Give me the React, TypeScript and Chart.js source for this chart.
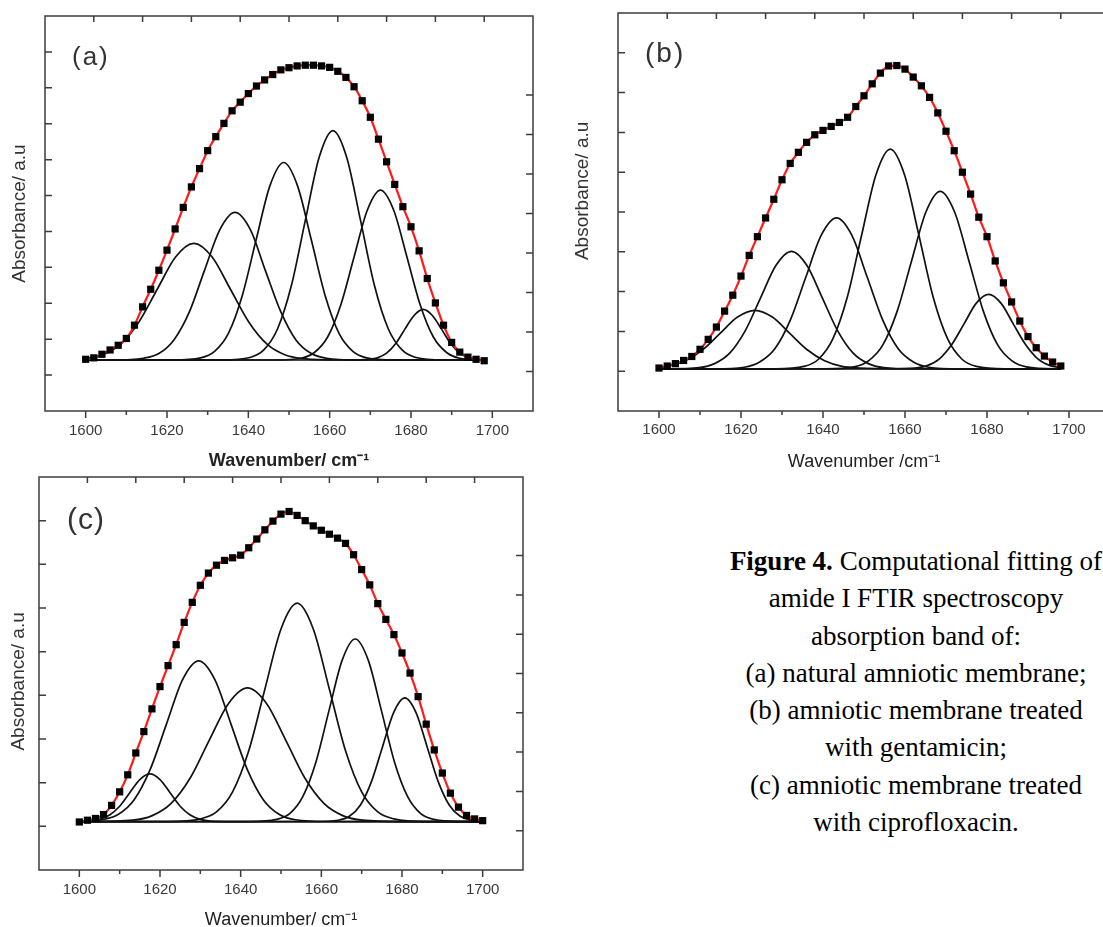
import React, { useEffect, useRef } from 'react';
import { Chart, registerables } from 'chart.js';

Chart.register(...registerables);

// ---------- DATA ----------
const wavenumberAB = [1600, 1602, 1604, 1606, 1608, 1610, 1612, 1614, 1616, 1618, 1620, 1622, 1624, 1626, 1628, 1630, 1632, 1634, 1636, 1638, 1640, 1642, 1644, 1646, 1648, 1650, 1652, 1654, 1656, 1658, 1660, 1662, 1664, 1666, 1668, 1670, 1672, 1674, 1676, 1678, 1680, 1682, 1684, 1686, 1688, 1690, 1692, 1694, 1696, 1698];
const wavenumberC = [1600, 1602, 1604, 1606, 1608, 1610, 1612, 1614, 1616, 1618, 1620, 1622, 1624, 1626, 1628, 1630, 1632, 1634, 1636, 1638, 1640, 1642, 1644, 1646, 1648, 1650, 1652, 1654, 1656, 1658, 1660, 1662, 1664, 1666, 1668, 1670, 1672, 1674, 1676, 1678, 1680, 1682, 1684, 1686, 1688, 1690, 1692, 1694, 1696, 1698, 1700];

const absorbanceA = [0.044, 0.048, 0.058, 0.070, 0.083, 0.102, 0.139, 0.190, 0.239, 0.292, 0.348, 0.407, 0.467, 0.524, 0.575, 0.625, 0.664, 0.701, 0.736, 0.760, 0.784, 0.805, 0.822, 0.837, 0.850, 0.856, 0.861, 0.863, 0.863, 0.861, 0.857, 0.846, 0.829, 0.803, 0.764, 0.718, 0.657, 0.594, 0.531, 0.469, 0.413, 0.346, 0.269, 0.201, 0.139, 0.091, 0.064, 0.050, 0.044, 0.040];
const absorbanceB = [0.008, 0.013, 0.019, 0.027, 0.037, 0.055, 0.080, 0.111, 0.151, 0.191, 0.239, 0.291, 0.338, 0.385, 0.432, 0.481, 0.522, 0.550, 0.575, 0.594, 0.605, 0.615, 0.625, 0.638, 0.665, 0.692, 0.722, 0.749, 0.767, 0.768, 0.759, 0.739, 0.717, 0.688, 0.649, 0.603, 0.554, 0.500, 0.445, 0.387, 0.338, 0.277, 0.222, 0.174, 0.126, 0.087, 0.059, 0.038, 0.023, 0.013];
const absorbanceC = [0.010, 0.014, 0.018, 0.027, 0.048, 0.079, 0.118, 0.168, 0.217, 0.269, 0.320, 0.368, 0.416, 0.467, 0.513, 0.552, 0.580, 0.598, 0.609, 0.615, 0.621, 0.638, 0.658, 0.679, 0.699, 0.715, 0.721, 0.712, 0.700, 0.688, 0.678, 0.669, 0.660, 0.648, 0.622, 0.588, 0.553, 0.510, 0.474, 0.439, 0.397, 0.351, 0.297, 0.234, 0.175, 0.122, 0.076, 0.044, 0.025, 0.017, 0.013];

// fitted component bands: [wavenumber, absorbance]
const bandsA: number[][][] = [
  [[1600, 0.046], [1604.1, 0.056], [1608.6, 0.086], [1613.1, 0.148], [1617.6, 0.239], [1622.1, 0.329], [1626.6, 0.367], [1631.1, 0.329], [1635.6, 0.239], [1640.1, 0.148], [1644.6, 0.086], [1649.1, 0.056], [1653.6, 0.046], [1662.6, 0.042], [1698, 0.042]],
  [[1600, 0.042], [1606.7, 0.042], [1614.2, 0.047], [1618.0, 0.060], [1621.7, 0.098], [1625.5, 0.176], [1629.2, 0.291], [1633.0, 0.405], [1636.7, 0.453], [1640.5, 0.405], [1644.2, 0.291], [1648.0, 0.176], [1651.7, 0.098], [1655.5, 0.060], [1659.2, 0.047], [1666.7, 0.042], [1698, 0.042]],
  [[1600, 0.042], [1621.5, 0.042], [1628.3, 0.048], [1631.7, 0.066], [1635.1, 0.116], [1638.5, 0.221], [1641.9, 0.376], [1645.3, 0.527], [1648.7, 0.592], [1652.1, 0.527], [1655.5, 0.376], [1658.9, 0.221], [1662.3, 0.116], [1665.7, 0.066], [1669.1, 0.048], [1675.9, 0.042], [1698, 0.042]],
  [[1600, 0.042], [1633.6, 0.042], [1640.4, 0.049], [1643.8, 0.070], [1647.2, 0.129], [1650.6, 0.250], [1654.0, 0.430], [1657.4, 0.606], [1660.8, 0.681], [1664.2, 0.606], [1667.6, 0.430], [1671.0, 0.250], [1674.4, 0.129], [1677.8, 0.070], [1681.2, 0.049], [1688.0, 0.042], [1698, 0.042]],
  [[1600, 0.042], [1646.5, 0.042], [1653.0, 0.047], [1656.25, 0.063], [1659.5, 0.106], [1662.75, 0.196], [1666.0, 0.329], [1669.25, 0.459], [1672.5, 0.515], [1675.75, 0.459], [1679.0, 0.329], [1682.25, 0.196], [1685.5, 0.106], [1688.75, 0.063], [1692.0, 0.047], [1698, 0.042]],
  [[1600, 0.042], [1665, 0.042], [1669.5, 0.044], [1671.75, 0.048], [1674, 0.061], [1676.25, 0.088], [1678.5, 0.128], [1680.75, 0.166], [1683, 0.183], [1685.25, 0.166], [1687.5, 0.128], [1689.75, 0.088], [1692, 0.061], [1694.25, 0.048], [1696.5, 0.044], [1698, 0.042]],
];

const bandsB: number[][][] = [
  [[1600, 0.009], [1602.15, 0.012], [1606.4, 0.026], [1610.65, 0.054], [1614.9, 0.095], [1619.15, 0.136], [1623.4, 0.153], [1627.65, 0.136], [1631.9, 0.095], [1636.15, 0.054], [1640.4, 0.026], [1644.65, 0.012], [1648.9, 0.008], [1657.4, 0.006], [1698, 0.006]],
  [[1600, 0.006], [1602.3, 0.006], [1609.8, 0.009], [1613.55, 0.019], [1617.3, 0.046], [1621.05, 0.102], [1624.8, 0.185], [1628.55, 0.266], [1632.3, 0.301], [1636.05, 0.266], [1639.8, 0.185], [1643.55, 0.102], [1647.3, 0.046], [1651.05, 0.019], [1654.8, 0.009], [1662.3, 0.006], [1698, 0.006]],
  [[1600, 0.006], [1613.3, 0.006], [1620.8, 0.010], [1624.55, 0.023], [1628.3, 0.057], [1632.05, 0.129], [1635.8, 0.236], [1639.55, 0.341], [1643.3, 0.385], [1647.05, 0.341], [1650.8, 0.236], [1654.55, 0.129], [1658.3, 0.057], [1662.05, 0.023], [1665.8, 0.010], [1673.3, 0.006], [1698, 0.006]],
  [[1600, 0.006], [1628.4, 0.006], [1635.4, 0.012], [1638.9, 0.030], [1642.4, 0.081], [1645.9, 0.185], [1649.4, 0.341], [1652.9, 0.493], [1656.4, 0.558], [1659.9, 0.493], [1663.4, 0.341], [1666.9, 0.185], [1670.4, 0.081], [1673.9, 0.030], [1677.4, 0.012], [1684.4, 0.006], [1698, 0.006]],
  [[1600, 0.006], [1640.6, 0.006], [1647.6, 0.011], [1651.1, 0.026], [1654.6, 0.066], [1658.1, 0.151], [1661.6, 0.277], [1665.1, 0.400], [1668.6, 0.452], [1672.1, 0.400], [1675.6, 0.277], [1679.1, 0.151], [1682.6, 0.066], [1686.1, 0.026], [1689.6, 0.011], [1696.6, 0.006], [1698, 0.006]],
  [[1600, 0.006], [1656.4, 0.006], [1662.4, 0.008], [1665.4, 0.014], [1668.4, 0.031], [1671.4, 0.067], [1674.4, 0.119], [1677.4, 0.171], [1680.4, 0.193], [1683.4, 0.171], [1686.4, 0.119], [1689.4, 0.067], [1692.4, 0.031], [1695.4, 0.014], [1698, 0.009]],
];

const bandsC: number[][][] = [
  [[1600, 0.011], [1602.5, 0.012], [1605.0, 0.016], [1607.5, 0.026], [1610.0, 0.046], [1612.5, 0.077], [1615.0, 0.107], [1617.5, 0.120], [1620.0, 0.107], [1622.5, 0.077], [1625.0, 0.046], [1627.5, 0.026], [1630.0, 0.016], [1632.5, 0.012], [1637.5, 0.011], [1700, 0.011]],
  [[1600, 0.011], [1605.6, 0.015], [1609.6, 0.027], [1613.6, 0.061], [1617.6, 0.131], [1621.6, 0.234], [1625.6, 0.336], [1629.6, 0.379], [1633.6, 0.336], [1637.6, 0.234], [1641.6, 0.131], [1645.6, 0.061], [1649.6, 0.027], [1653.6, 0.015], [1661.6, 0.011], [1700, 0.011]],
  [[1600, 0.011], [1603.7, 0.011], [1613.2, 0.014], [1617.95, 0.024], [1622.7, 0.052], [1627.45, 0.110], [1632.2, 0.197], [1636.95, 0.281], [1641.7, 0.317], [1646.45, 0.281], [1651.2, 0.197], [1655.95, 0.110], [1660.7, 0.052], [1665.45, 0.024], [1670.2, 0.014], [1679.7, 0.011], [1700, 0.011]],
  [[1600, 0.011], [1622, 0.011], [1630, 0.017], [1634, 0.033], [1638, 0.079], [1642, 0.173], [1646, 0.314], [1650, 0.452], [1654, 0.511], [1658, 0.452], [1662, 0.314], [1666, 0.173], [1670, 0.079], [1674, 0.033], [1678, 0.017], [1686, 0.011], [1700, 0.011]],
  [[1600, 0.011], [1642.4, 0.011], [1648.9, 0.016], [1652.15, 0.029], [1655.4, 0.068], [1658.65, 0.147], [1661.9, 0.265], [1665.15, 0.380], [1668.4, 0.429], [1671.65, 0.380], [1674.9, 0.265], [1678.15, 0.147], [1681.4, 0.068], [1684.65, 0.029], [1687.9, 0.016], [1694.4, 0.011], [1700, 0.011]],
  [[1600, 0.011], [1658.7, 0.011], [1664.2, 0.014], [1666.95, 0.023], [1669.7, 0.049], [1672.45, 0.103], [1675.2, 0.183], [1677.95, 0.261], [1680.7, 0.294], [1683.45, 0.261], [1686.2, 0.183], [1688.95, 0.103], [1691.7, 0.049], [1694.45, 0.023], [1697.2, 0.014], [1700, 0.011]],
];

// tick values
const xMajorTicks = [1600, 1620, 1640, 1660, 1680, 1700];
const xMinorTicks = [1610, 1630, 1650, 1670, 1690];
const topTicks = [1, 2, 3, 4, 5, 6, 7, 8, 9];
const leftTicksA = [0, 0.1, 0.2, 0.3, 0.4, 0.5, 0.6, 0.7, 0.8, 0.9];
const rightTicksA = [0, 0.1, 0.2, 0.3, 0.4, 0.5, 0.6, 0.7];
const leftTicksB = [0, 0.1, 0.2, 0.3, 0.4, 0.5, 0.6, 0.7, 0.8];
const rightTicksB = [0.1, 0.3, 0.5, 0.7];
const leftTicksC = [0, 0.1, 0.2, 0.3, 0.4, 0.5, 0.6, 0.7];
const rightTicksC = [0, 0.1, 0.2, 0.3, 0.4, 0.5, 0.6, 0.7];

// ---------- LAYOUT ----------
type Panel = {
  box: { left: number; top: number; width: number; height: number };
  frame: { l: number; t: number; r: number; b: number };
  yMax: number;
  wn: number[];
  abs: number[];
  bands: number[][][];
  leftTicks: number[];
  rightTicks: number[];
  xTitle: string;
  yTitle: string;
  xBold: boolean;
  xTitleY: number;
  yTitleX: number;
  tickY: number;
};

const SANS = "'Liberation Sans', Arial, Helvetica, sans-serif";
const NB = '\u00A0';

const panels: Panel[] = [
  {
    box: { left: 0, top: 0, width: 545, height: 475 },
    frame: { l: 45, t: 16, r: 533, b: 411 },
    yMax: 1.0, wn: wavenumberAB, abs: absorbanceA, bands: bandsA,
    leftTicks: leftTicksA, rightTicks: rightTicksA,
    xTitle: 'Wavenumber/ cm\u207B\u00B9', yTitle: 'Absorbance/ a.u',
    xBold: true, xTitleY: 461, yTitleX: 19.5, tickY: 431,
  },
  {
    box: { left: 560, top: 0, width: 560, height: 475 },
    frame: { l: 618, t: 13, r: 1110, b: 411 },
    yMax: 0.9, wn: wavenumberAB, abs: absorbanceB, bands: bandsB,
    leftTicks: leftTicksB, rightTicks: rightTicksB,
    xTitle: 'Wavenumber /cm\u207B\u00B9', yTitle: NB.repeat(8) + 'Absorbance/ a.u',
    xBold: false, xTitleY: 462, yTitleX: 583, tickY: 430,
  },
  {
    box: { left: 0, top: 465, width: 545, height: 470 },
    frame: { l: 39, t: 477, r: 523, b: 870 },
    yMax: 0.8, wn: wavenumberC, abs: absorbanceC, bands: bandsC,
    leftTicks: leftTicksC, rightTicks: rightTicksC,
    xTitle: 'Wavenumber/ cm\u207B\u00B9', yTitle: 'Absorbance/ a.u' + NB.repeat(3),
    xBold: false, xTitleY: 920, yTitleX: 19, tickY: 890,
  },
];

function FtirPanel({ p }: { p: Panel }) {
  const ref = useRef<HTMLCanvasElement>(null);
  useEffect(() => {
    const canvas = ref.current;
    if (!canvas) return;
    const { box, frame } = p;
    const yAxisWidth = frame.l - box.left;
    const xAxisHeight = box.top + box.height - frame.b;
    const padTop = frame.t - box.top;
    const padRight = box.left + box.width - frame.r;

    const frameTicks = {
      id: 'frameTicks',
      afterDatasetsDraw(chart: any) {
        const { ctx, chartArea } = chart;
        const { left, right, top, bottom } = chartArea;
        const sx = chart.scales.x;
        const sx2 = chart.scales.x2;
        const sy = chart.scales.y;
        const sy2 = chart.scales.y2;
        ctx.save();
        ctx.strokeStyle = '#3c3c3c';
        ctx.lineWidth = 1.5;
        ctx.beginPath();
        xMajorTicks.forEach((v) => {
          const px = sx.getPixelForValue(v);
          ctx.moveTo(px, bottom);
          ctx.lineTo(px, bottom + 7);
        });
        xMinorTicks.forEach((v) => {
          const px = sx.getPixelForValue(v);
          ctx.moveTo(px, bottom);
          ctx.lineTo(px, bottom + 4);
        });
        topTicks.forEach((v) => {
          const px = sx2.getPixelForValue(v);
          ctx.moveTo(px, top);
          ctx.lineTo(px, top + 6);
        });
        p.leftTicks.forEach((v) => {
          const py = sy.getPixelForValue(v);
          ctx.moveTo(left, py);
          ctx.lineTo(left + 7, py);
        });
        p.rightTicks.forEach((v) => {
          const py = sy2.getPixelForValue(v);
          ctx.moveTo(right, py);
          ctx.lineTo(right - 7, py);
        });
        ctx.stroke();
        ctx.strokeRect(left, top, right - left, bottom - top);
        ctx.restore();
      },
    };

    const points = p.wn.map((x, i) => ({ x, y: p.abs[i] }));

    const chart = new Chart(canvas, {
      type: 'line',
      data: {
        datasets: [
          {
            data: points,
            showLine: false,
            pointStyle: 'rect',
            pointRadius: 5.1,
            pointBackgroundColor: '#000',
            pointBorderColor: '#000',
            pointBorderWidth: 0,
            order: 0,
          } as any,
          {
            data: points,
            borderColor: '#ff1a1a',
            borderWidth: 2.2,
            pointRadius: 0,
            cubicInterpolationMode: 'monotone',
            fill: false,
            order: 1,
          },
          ...p.bands.map((b) => ({
            data: b.map(([x, y]) => ({ x, y })),
            borderColor: '#111',
            borderWidth: 1.7,
            pointRadius: 0,
            cubicInterpolationMode: 'monotone',
            fill: false,
            order: 2,
          })),
        ],
      },
      options: {
        animation: false,
        responsive: false,
        devicePixelRatio: 1,
        events: [],
        layout: { padding: { top: padTop, right: padRight, left: 0, bottom: 0 } },
        plugins: { legend: { display: false }, tooltip: { enabled: false } },
        scales: {
          x: {
            type: 'linear',
            position: 'bottom',
            min: 1590,
            max: 1710,
            afterBuildTicks: (scale: any) => {
              scale.ticks = xMajorTicks.map((v) => ({ value: v }));
            },
            afterFit: (scale: any) => {
              scale.height = xAxisHeight;
            },
            grid: { display: false, drawTicks: false },
            border: { display: false },
            ticks: {
              autoSkip: false,
              maxRotation: 0,
              minRotation: 0,
              padding: p.tickY - frame.b - 9,
              color: '#3a3a3a',
              font: { family: SANS, size: 15, lineHeight: 1.2 },
              callback: (v: any) => String(v),
            },
            title: {
              display: true,
              text: p.xTitle,
              color: '#222',
              font: { family: SANS, size: 18, weight: p.xBold ? 'bold' : 'normal', lineHeight: 1.2 },
              padding: { top: 0, bottom: box.top + box.height - p.xTitleY - 10.8 },
            },
          },
          x2: { type: 'linear', position: 'top', min: 0, max: 10, display: false },
          y: {
            type: 'linear',
            position: 'left',
            min: -0.1,
            max: p.yMax,
            afterFit: (scale: any) => {
              scale.width = yAxisWidth;
            },
            grid: { display: false, drawTicks: false },
            border: { display: false },
            ticks: { display: false },
            title: {
              display: true,
              text: p.yTitle,
              color: '#333',
              font: { family: SANS, size: 19, lineHeight: 1.2 },
              padding: { top: p.yTitleX - box.left - 11.4, bottom: 0 },
            },
          },
          y2: { type: 'linear', position: 'right', min: -0.1, max: 0.9, display: false },
        },
      } as any,
      plugins: [frameTicks],
    });
    return () => chart.destroy();
  }, [p]);

  return (
    <canvas
      ref={ref}
      width={p.box.width}
      height={p.box.height}
      style={{ position: 'absolute', left: p.box.left, top: p.box.top, width: p.box.width, height: p.box.height, display: 'block' }}
    />
  );
}

const labelStyle = (left: number, top: number, size: number, spacing: number): React.CSSProperties => ({
  position: 'absolute',
  left,
  top,
  fontFamily: SANS,
  fontSize: size,
  lineHeight: 1,
  letterSpacing: spacing,
  color: '#333',
  whiteSpace: 'nowrap',
});

export default function App() {
  return (
    <div style={{ position: 'fixed', left: 0, top: 0, width: 1103, height: 927, overflow: 'hidden', background: '#fff' }}>
      {panels.map((p, i) => (
        <FtirPanel key={i} p={p} />
      ))}
      <div style={labelStyle(72, 43, 26, 2)}>(a)</div>
      <div style={labelStyle(645, 39, 28, 2)}>(b)</div>
      <div style={labelStyle(67, 504, 30, 1)}>(c)</div>
      <div
        style={{
          position: 'absolute',
          left: 666,
          top: 543,
          width: 500,
          textAlign: 'center',
          fontFamily: "'Liberation Serif', 'Times New Roman', serif",
          fontSize: 27,
          lineHeight: '37.3px',
          color: '#000',
        }}
      >
        <b>Figure 4.</b> Computational fitting of
        <br />
        amide I FTIR spectroscopy
        <br />
        absorption band of:
        <br />
        (a) natural amniotic membrane;
        <br />
        (b) amniotic membrane treated
        <br />
        with gentamicin;
        <br />
        (c) amniotic membrane treated
        <br />
        with ciprofloxacin.
      </div>
    </div>
  );
}
